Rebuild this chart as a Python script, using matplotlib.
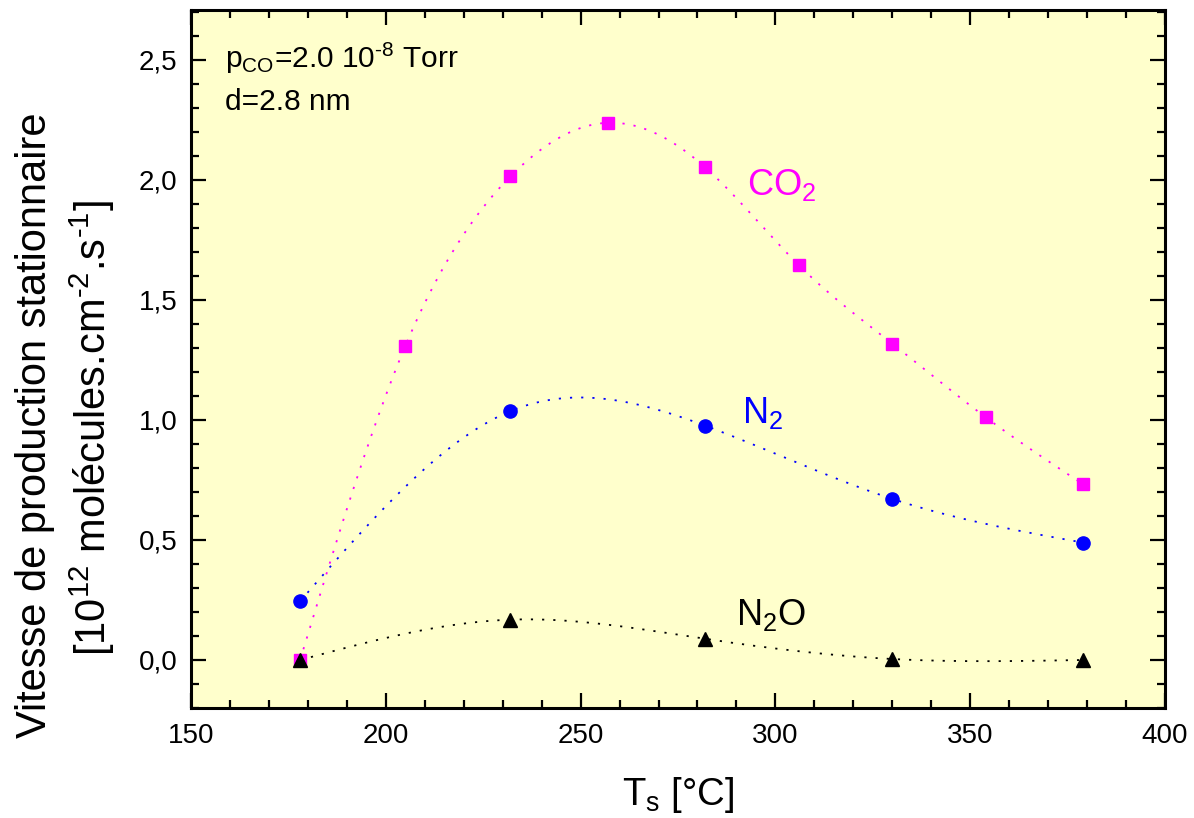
import numpy as np
import matplotlib
matplotlib.use("Agg")
import matplotlib.pyplot as plt
from matplotlib.ticker import MultipleLocator, FuncFormatter

plt.rcParams['font.family'] = ['Liberation Sans', 'DejaVu Sans']
plt.rcParams['mathtext.fontset'] = 'custom'
plt.rcParams['mathtext.rm'] = 'Liberation Sans'
plt.rcParams['mathtext.it'] = 'Liberation Sans'
plt.rcParams['mathtext.bf'] = 'Liberation Sans'

# Data
T_co2 = [178, 205, 232, 257, 282, 306, 330, 354, 379]
v_co2 = [0.0, 1.308, 2.015, 2.238, 2.052, 1.645, 1.318, 1.011, 0.732]
T_n2 = [178, 232, 282, 330, 379]
v_n2 = [0.245, 1.037, 0.976, 0.671, 0.489]
T_n2o = [178, 232, 282, 330, 379]
v_n2o = [0.0, 0.168, 0.088, 0.004, 0.0]


def natural_spline(x, y, n=400):
    x = np.asarray(x, float)
    y = np.asarray(y, float)
    k = len(x)
    h = np.diff(x)
    A = np.zeros((k, k))
    b = np.zeros(k)
    A[0, 0] = 1
    A[-1, -1] = 1
    for i in range(1, k - 1):
        A[i, i - 1] = h[i - 1]
        A[i, i] = 2 * (h[i - 1] + h[i])
        A[i, i + 1] = h[i]
        b[i] = 6 * ((y[i + 1] - y[i]) / h[i] - (y[i] - y[i - 1]) / h[i - 1])
    M = np.linalg.solve(A, b)
    xs = np.linspace(x[0], x[-1], n)
    idx = np.clip(np.searchsorted(x, xs) - 1, 0, k - 2)
    x0, x1 = x[idx], x[idx + 1]
    hh = x1 - x0
    ys = (M[idx] * (x1 - xs) ** 3 / (6 * hh) + M[idx + 1] * (xs - x0) ** 3 / (6 * hh)
          + (y[idx] / hh - M[idx] * hh / 6) * (x1 - xs)
          + (y[idx + 1] / hh - M[idx + 1] * hh / 6) * (xs - x0))
    return xs, ys


fig = plt.figure(figsize=(11.94, 8.18), dpi=100)
ax = fig.add_axes([0.16, 0.1345, 0.8157, 0.8533])
ax.set_facecolor('#FFFFCC')

dot = (0, (1.2, 5))
for T, v, c, m, ms in [(T_co2, v_co2, '#FF00FF', 's', 8.5),
                       (T_n2, v_n2, '#0000FF', 'o', 9.5),
                       (T_n2o, v_n2o, '#000000', '^', 10)]:
    xs, ys = natural_spline(T, v)
    ax.plot(xs, ys, color=c, lw=1.3, linestyle=dot, zorder=2)
    ax.plot(T, v, linestyle='none', marker=m, color=c, ms=ms, mec=c, zorder=3)

ax.set_xlim(150, 400)
ax.set_ylim(-0.2, 2.708)
ax.xaxis.set_major_locator(MultipleLocator(50))
ax.xaxis.set_minor_locator(MultipleLocator(10))
ax.yaxis.set_major_locator(MultipleLocator(0.5))
ax.yaxis.set_minor_locator(MultipleLocator(0.1))
ax.yaxis.set_major_formatter(FuncFormatter(lambda v, p: f"{v:.1f}".replace('.', ',')))

ax.tick_params(which='both', direction='in', top=True, right=True, width=1.6, labelsize=20)
ax.tick_params(which='major', length=11)
ax.tick_params(which='minor', length=6)
ax.tick_params(axis='x', pad=11)
ax.tick_params(axis='y', pad=10)
for s in ax.spines.values():
    s.set_linewidth(2.2)

ax.text(158.7, 2.467, r'p$_\mathregular{CO}$=2.0 10$^\mathregular{\text{-}8}$ Torr', fontsize=21.5, va='baseline')
ax.text(158.7, 2.29, 'd=2.8 nm', fontsize=21.5, va='baseline')

ax.text(292.6, 1.9375, r'CO$_\mathregular{2}$', fontsize=26, color='#FF00FF', va='baseline')
ax.text(291.5, 0.9875, r'N$_\mathregular{2}$', fontsize=26, color='#0000FF', va='baseline')
ax.text(290.0, 0.146, r'N$_\mathregular{2}$O', fontsize=26, color='#000000', va='baseline')

fig.text(678 / 1194, 1 - 795 / 818, r'T$_\mathregular{s}$ [°C]', fontsize=27.5, ha='center', va='center')
fig.text(35 / 1194, 1 - 425 / 818, 'Vitesse de production stationnaire', fontsize=30,
         rotation=90, ha='center', va='center')
fig.text(92 / 1194, 1 - 428 / 818,
         r'[10$^\mathregular{12}$ molécules.cm$^\mathregular{\text{-}2}$.s$^\mathregular{\text{-}1}$]',
         fontsize=30, rotation=90, ha='center', va='center')

fig.savefig('out.png', dpi=100)
